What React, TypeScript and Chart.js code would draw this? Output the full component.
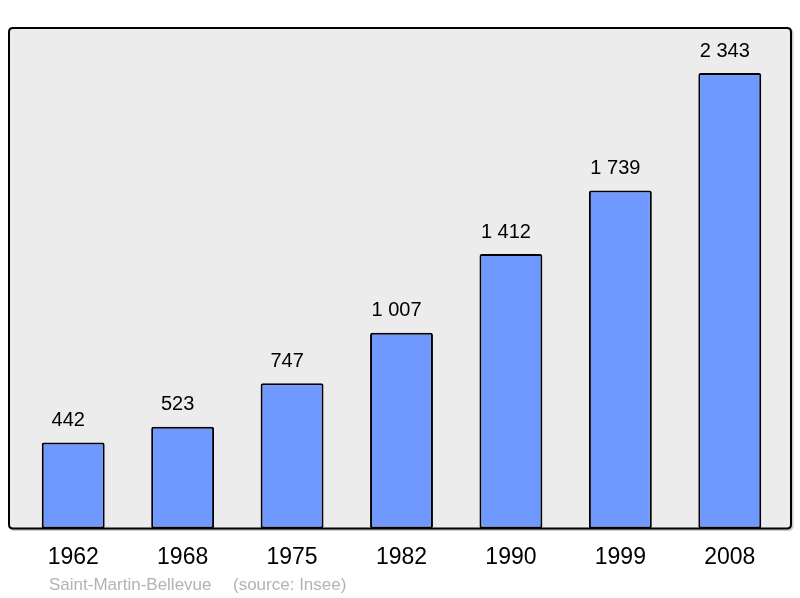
import React, { useEffect, useRef } from "react";
import { Chart, registerables } from "chart.js";

Chart.register(...registerables);

const years = ["1962", "1968", "1975", "1982", "1990", "1999", "2008"];
const population = [442, 523, 747, 1007, 1412, 1739, 2343];
const commune = "Saint-Martin-Bellevue";
const source = "(source: Insee)";

const fmt = (v: number) => {
  const s = String(v);
  return s.length > 3 ? s.slice(0, s.length - 3) + " " + s.slice(-3) : s;
};

const FONT = "'Liberation Sans', Arial, sans-serif";

const framePath = (ctx: any, x0: number, y0: number, x1: number, y1: number, r: number) => {
  ctx.beginPath();
  ctx.moveTo(x0 + r, y0);
  ctx.lineTo(x1 - r, y0);
  ctx.quadraticCurveTo(x1, y0, x1, y0 + r);
  ctx.lineTo(x1, y1 - r);
  ctx.quadraticCurveTo(x1, y1, x1 - r, y1);
  ctx.lineTo(x0 + r, y1);
  ctx.quadraticCurveTo(x0, y1, x0, y1 - r);
  ctx.lineTo(x0, y0 + r);
  ctx.quadraticCurveTo(x0, y0, x0 + r, y0);
  ctx.closePath();
};

const framePlugin = {
  id: "frame",
  beforeDraw(chart: any) {
    const { ctx, chartArea } = chart;
    const x0 = 9, y0 = 28, x1 = 791, y1 = chartArea.bottom;
    ctx.save();
    framePath(ctx, x0 + 1.5, y0 + 1.5, x1 + 1.5, y1 + 1.5, 4);
    ctx.strokeStyle = "rgba(0,0,0,0.2)";
    ctx.lineWidth = 2;
    ctx.stroke();
    framePath(ctx, x0, y0, x1, y1, 4);
    ctx.fillStyle = "#ececec";
    ctx.fill();
    ctx.restore();
  },
  afterDatasetsDraw(chart: any) {
    const { ctx, chartArea } = chart;
    const x0 = 9, y0 = 28, x1 = 791, y1 = chartArea.bottom;
    ctx.save();
    framePath(ctx, x0, y0, x1, y1, 4);
    ctx.strokeStyle = "#000";
    ctx.lineWidth = 2;
    ctx.stroke();
    const meta = chart.getDatasetMeta(0);
    ctx.fillStyle = "#000";
    ctx.font = `20px ${FONT}`;
    ctx.textAlign = "center";
    ctx.textBaseline = "middle";
    meta.data.forEach((bar: any, i: number) => {
      ctx.fillText(fmt(population[i]), bar.x - 5, bar.y - 22);
    });
    ctx.fillStyle = "#b3b3b3";
    ctx.font = `17px ${FONT}`;
    ctx.textAlign = "left";
    ctx.fillText(commune, 49, 585);
    ctx.fillText(source, 233, 585);
    ctx.restore();
  },
};

export default function App() {
  const ref = useRef<HTMLCanvasElement>(null);
  useEffect(() => {
    document.body.style.margin = "0";
    const chart = new Chart(ref.current!, {
      type: "bar",
      data: {
        labels: years,
        datasets: [
          {
            data: population,
            backgroundColor: "#7099ff",
            borderColor: "#000",
            borderWidth: 2,
            borderRadius: 2,
            borderSkipped: false,
            barPercentage: 0.575,
            categoryPercentage: 1,
          },
        ],
      },
      options: {
        animation: false,
        responsive: false,
        maintainAspectRatio: false,
        layout: { padding: { left: 18.5, right: 15.5, top: 28, bottom: 12 } },
        plugins: { legend: { display: false }, tooltip: { enabled: false } },
        scales: {
          x: {
            grid: { display: false, drawTicks: false },
            border: { display: false },
            ticks: { font: { size: 23, family: FONT }, color: "#000", padding: 15 },
          },
          y: {
            display: false,
            min: 0,
            max: 2575,
          },
        },
      },
      plugins: [framePlugin],
    });
    return () => chart.destroy();
  }, []);
  return <canvas ref={ref} width={800} height={598} style={{ display: "block" }} />;
}
